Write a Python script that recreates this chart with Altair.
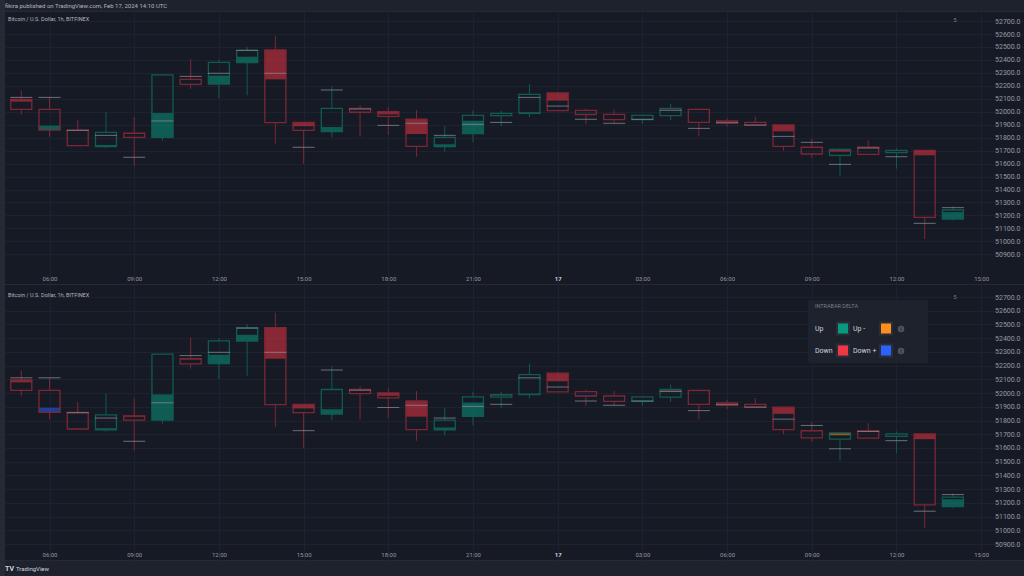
import altair as alt
import pandas as pd
import numpy as np

header_text = "fikira published on TradingView.com, Feb 17, 2024 14:10 UTC"
pane_title = "Bitcoin / U.S. Dollar, 1h, BITFINEX"
footer_text = "TradingView"

# hourly candles, 2024-02-16 05:00 UTC .. 2024-02-17 14:00 UTC
times = pd.date_range("2024-02-16 05:00", periods=34, freq="h", tz="UTC")
opens = [52096, 52019, 51859, 51731, 51834, 51803, 52250, 52214, 52379, 52477, 51918, 51846,
         52026, 52001, 51942, 51731, 51831, 51970, 51988, 52145, 52011, 51980, 51939, 51970,
         52019, 51929, 51918, 51898, 51726, 51664, 51726, 51684, 51702, 51172]
highs = [52163, 52111, 51936, 51998, 51960, 52284, 52405, 52399, 52502, 52585, 51918, 52194,
         52050, 52034, 52014, 51890, 52011, 52006, 52214, 52155, 52024, 52016, 51972, 52062,
         52019, 51949, 51962, 51898, 51790, 51720, 51780, 51720, 51702, 51270]
lows = [51978, 51808, 51731, 51720, 51581, 51777, 52178, 52104, 52127, 51754, 51599, 51803,
        51808, 51821, 51653, 51692, 51764, 51890, 51960, 52008, 51906, 51908, 51908, 51936,
        51808, 51885, 51895, 51700, 51646, 51507, 51671, 51561, 51018, 51162]
closes = [52019, 51859, 51738, 51841, 51803, 52284, 52212, 52381, 52474, 51916, 51857, 52026,
          51996, 51965, 51733, 51803, 51972, 51988, 52134, 52008, 51978, 51939, 51972, 52026,
          51918, 51911, 51895, 51733, 51674, 51710, 51671, 51702, 51185, 51242]
# intrabar delta: sign and the price reached by the delta fill
delta_sign = ["-", "+", "-", "+", "-", "+", "-", "+", "+", "-", "-", "+",
              "-", "-", "-", "+", "+", "-", "+", "-", "+", "-", "+", "-",
              "-", "-", "-", "-", "-", "-", "-", "+", "-", "+"]
fill_edges = [52078, 51893, 51852, 51744, 51828, 51990, 52245, 52279, 52425, 52250, 51888, 51882,
              52021, 51980, 51828, 51749, 51931, 51983, 51996, 52086, 51985, 51976, 51944, 52018,
              52014, 51926, 51914, 51849, 51721, 51692, 51721, 51688, 51664, 51226]
levels = [52111, 52111, 51857, 51818, 51648, 51929, 52273, 52297, 52474, 52297, 51726, 52168,
          52021, 51895, 51911, 51818, 51903, 51918, 52111, 52044, 51942, 51911, 51942, 52011,
          51872, 51918, 51898, 51810, 51764, 51594, 51720, 51653, 51139, 51260]

price_ticks = [50900, 51000, 51100, 51200, 51300, 51400, 51500, 51600, 51700, 51800, 51900,
               52000, 52100, 52200, 52300, 52400, 52500, 52600, 52700]
tick_times = [(16, 6), (16, 9), (16, 12), (16, 15), (16, 18), (16, 21),
              (17, 0), (17, 3), (17, 6), (17, 9), (17, 12), (17, 15)]
delta_cats = ["Up", "Up -", "Down", "Down +"]
delta_colors = ["#089981", "#ff8d1e", "#f23645", "#2962ff"]

df = pd.DataFrame({"open": opens, "high": highs, "low": lows, "close": closes,
                   "sign": delta_sign, "fill_edge": fill_edges, "level": levels})
df["t"] = times.strftime("%Y-%m-%dT%H:%M:%SZ")
df["body_top"] = df[["open", "close"]].max(axis=1)
df["body_bot"] = df[["open", "close"]].min(axis=1)
df["dir"] = np.where(df["close"] >= df["open"], "up", "down")
df["fill_from"] = np.where(df["sign"] == "+", df["body_bot"], df["body_top"])
df["cat"] = np.where(df["dir"] == "up",
                     np.where(df["sign"] == "+", "Up", "Up -"),
                     np.where(df["sign"] == "-", "Down", "Down +"))

FONT = "Roboto"
PANE_BG = "#161a25"
CHROME = "#1e222d"
GRID = "#1e2230"
W = 1019

xscale = alt.Scale(type="utc", padding=0, domain=[
    alt.DateTime(year=2024, month=2, date=16, hours=4, minutes=25, seconds=23, utc=True),
    alt.DateTime(year=2024, month=2, date=17, hours=16, minutes=31, seconds=5, utc=True)])
xaxis = alt.Axis(
    values=[alt.DateTime(year=2024, month=2, date=d, hours=h, utc=True) for d, h in tick_times],
    labelExpr="utchours(datum.value) == 0 ? utcFormat(datum.value, '%-d') : utcFormat(datum.value, '%H:%M')",
    offset=-12, ticks=False, domain=False, grid=True, gridColor=GRID, gridWidth=1,
    labelFontSize=6, labelPadding=3, labelFont=FONT, labelFlush=False,
    labelColor={"condition": {"test": "utchours(datum.value) == 0", "value": "#d1d4dc"}, "value": "#9598a1"},
    labelFontWeight={"condition": {"test": "utchours(datum.value) == 0", "value": "bold"}, "value": "normal"},
)
dir_scale = alt.Scale(domain=["up", "down"], range=["#0f5c50", "#7e2634"])


def text_layer(txt, x, y, size, color, align="left", weight="normal"):
    return alt.Chart(pd.DataFrame({"txt": [txt]})).mark_text(
        align=align, baseline="middle", fontSize=size, color=color, font=FONT, fontWeight=weight
    ).encode(x=alt.value(x), y=alt.value(y), text="txt:N")


def pane(height, ydom, color_enc, title_y, five_y, extras=()):
    yscale = alt.Scale(domain=ydom, nice=False, zero=False)
    yaxis = alt.Axis(orient="right", values=price_ticks, format=".1f", offset=-4,
                     labelAlign="right", labelPadding=0, ticks=False, domain=False,
                     grid=True, gridColor=GRID, gridWidth=1, labelColor="#9598a1",
                     labelFontSize=7, labelFont=FONT)

    def Y(f):
        return alt.Y(f"{f}:Q", scale=yscale, axis=yaxis, title=None)

    base = alt.Chart(df).encode(x=alt.X("t:T", scale=xscale, axis=xaxis, title=None))
    stroke = alt.Stroke("dir:N", scale=dir_scale, legend=None)
    upper = base.mark_rule(strokeWidth=1).encode(y=Y("high"), y2="body_top:Q", stroke=stroke)
    lower = base.mark_rule(strokeWidth=1).encode(y=Y("body_bot"), y2="low:Q", stroke=stroke)
    fillb = base.mark_bar(size=22, opacity=0.52).encode(y=Y("fill_from"), y2="fill_edge:Q",
                                                        color=color_enc)
    body = base.mark_bar(size=21, fillOpacity=0, strokeWidth=1.3).encode(
        y=Y("body_top"), y2="body_bot:Q", stroke=stroke)
    lvl = base.mark_tick(orient="horizontal", size=22, thickness=1, color="#8a8e98",
                         opacity=0.75).encode(y=Y("level"))
    ttl = text_layer(pane_title, 3, title_y, 5.5, "#b2b5be")
    five = text_layer("5", 950, five_y, 6, "#787b86", align="center")
    return alt.layer(upper, lower, fillb, body, lvl, ttl, five, *extras).properties(
        width=W, height=height, view=alt.ViewBackground(fill=PANE_BG, strokeWidth=0))


top_color = alt.Color("sign:N", scale=alt.Scale(domain=["+", "-"], range=["#089981", "#f23645"]),
                      legend=None)
bottom_color = alt.Color(
    "cat:N", scale=alt.Scale(domain=delta_cats, range=delta_colors),
    legend=alt.Legend(title="INTRABAR DELTA", orient="none", legendX=810, legendY=19,
                      columns=2, direction="horizontal", symbolType="square", symbolSize=144,
                      symbolOpacity=1, symbolStrokeColor="#2a2e39", symbolStrokeWidth=2,
                      symbolOffset=alt.ExprRef(expr="datum.index % 2 == 0 ? 21 : 26"),
                      labelColor="#d1d4dc", labelFontSize=7, labelFont=FONT,
                      labelAlign="left",
                      labelOffset=alt.ExprRef(expr="datum.index % 2 == 0 ? -35 : -40"),
                      titleColor="#787b86", titleFontSize=5.5, titleFontWeight="normal",
                      titleFont=FONT, titlePadding=12, padding=0,
                      rowPadding=2, columnPadding=0))

# decorations of the legend panel (box and info icons)
legend_box = alt.Chart(pd.DataFrame({"k": [0]})).mark_rect(
    color=CHROME, cornerRadius=2
).encode(x=alt.value(803), x2=alt.value(923), y=alt.value(15), y2=alt.value(78))
icons = []
for iy in (44, 66):
    icons.append(alt.Chart(pd.DataFrame({"k": [0]})).mark_point(
        shape="circle", filled=True, size=42, color="#50535e", opacity=1
    ).encode(x=alt.value(896), y=alt.value(iy)))
    icons.append(text_layer("i", 896, iy, 5, "#1e222d", align="center", weight="bold"))

pane1 = pane(272, [50670.8, 52769.8], top_color, 6.5, 8)
pane2 = pane(275, [50783.4, 52787.5], bottom_color, 10, 12, extras=[legend_box] + icons)

header = text_layer(header_text, 0, 6, 6, "#b2b5be").properties(
    width=W, height=11, view=alt.ViewBackground(fill=CHROME, strokeWidth=0))

footer = alt.layer(
    text_layer("TV", 0, 7.5, 7, "#d1d4dc", weight="bold"),
    text_layer(footer_text, 11, 7.5, 6, "#d1d4dc"),
).properties(width=W, height=15, view=alt.ViewBackground(fill=CHROME, strokeWidth=0))

chart = alt.vconcat(header, pane1, pane2, footer, spacing=1).resolve_scale(
    color="independent"
).properties(
    padding={"left": 5, "top": 0, "right": 0, "bottom": 0},
    background="#262a35",
).configure_view(strokeWidth=0).configure(font=FONT)

chart.save("out.html", embed_options={"renderer": "svg", "actions": False})
